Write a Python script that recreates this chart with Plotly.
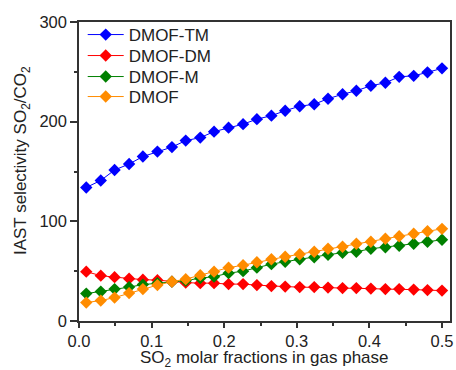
import plotly.graph_objects as go

x_frac = [0.010, 0.030, 0.049, 0.069, 0.088, 0.108, 0.128, 0.147, 0.167, 0.186,
          0.206, 0.226, 0.245, 0.265, 0.284, 0.304, 0.324, 0.343, 0.363, 0.382,
          0.402, 0.422, 0.441, 0.461, 0.480, 0.500]

dmof_tm = [134, 141, 151.5, 157.5, 165, 170, 174.5, 181, 184, 190, 194, 197.5, 202.5,
           206, 211, 215.5, 217.5, 223, 227.5, 231, 236, 239, 245, 246, 249.5, 253.5]
dmof_dm = [49.5, 45.5, 44, 42.5, 41.5, 41, 39.5, 38.5, 38, 38, 37, 37, 36,
           35, 34.5, 34, 34, 33.5, 33, 33, 32.5, 32, 32, 31.5, 31, 30.5]
dmof_m = [27.5, 29.5, 32, 34, 36.5, 38, 39.5, 40.5, 43, 44.5, 48, 50, 53.5,
          57, 59.5, 62, 64, 66.5, 68.5, 69.5, 72.5, 74, 75.5, 77.5, 79.5, 81.5]
dmof = [18.5, 20.5, 23.5, 28, 32, 36, 39.5, 42, 46, 49.5, 53.5, 56, 59,
        62, 64.5, 67, 69.5, 72.5, 74.5, 77.5, 79.5, 82.5, 85, 87.5, 90, 92.5]

x_title = "SO<sub>2</sub> molar fractions in gas phase"
y_title = "IAST selectivity SO<sub>2</sub>/CO<sub>2</sub>"

series = [
    ("DMOF-TM", dmof_tm, "#0000FF"),
    ("DMOF-DM", dmof_dm, "#FF0000"),
    ("DMOF-M", dmof_m, "#008000"),
    ("DMOF", dmof, "#FF8C00"),
]
legend_rows = [0.9565, 0.8863, 0.8161, 0.7492]

fig = go.Figure()
legend_layouts = {}
for i, (name, vals, col) in enumerate(series):
    lname = "legend" if i == 0 else f"legend{i + 1}"
    fig.add_trace(go.Scatter(
        x=x_frac, y=vals, name=name, mode="lines+markers",
        line=dict(color=col, width=1),
        marker=dict(symbol="diamond", size=9.5, color=col),
        legend=lname,
    ))
    legend_layouts[lname] = dict(
        x=0.01, y=legend_rows[i], xanchor="left", yanchor="middle",
        font=dict(size=17), bgcolor="rgba(0,0,0,0)", itemwidth=36,
    )

axis_common = dict(
    showline=True, linecolor="#333333", linewidth=1.5, mirror=True,
    ticks="outside", tickwidth=1.5, tickcolor="#333333",
    showgrid=False, zeroline=False, automargin=False,
    tickfont=dict(size=16.5, color="#222222"),
)

fig.update_layout(
    width=456, height=370,
    margin=dict(l=79, r=6, t=22, b=49),
    paper_bgcolor="white", plot_bgcolor="white",
    font=dict(family="Liberation Sans, Arial, sans-serif", color="#222222"),
    xaxis=dict(range=[0, 0.511], tickvals=[0, 0.1, 0.2, 0.3, 0.4, 0.5],
               tickformat=".1f", ticklen=5, ticklabelstandoff=-1,
               minor=dict(tickvals=[0.05, 0.15, 0.25, 0.35, 0.45], ticks="outside",
                          ticklen=3, tickwidth=1.5, tickcolor="#333333"),
               **axis_common),
    yaxis=dict(range=[0, 300], tickvals=[0, 100, 200, 300], ticklen=7,
               minor=dict(tickvals=[50, 150, 250], ticks="outside",
                          ticklen=3, tickwidth=1.5, tickcolor="#333333"),
               **axis_common),
    annotations=[
        dict(text=x_title, xref="paper", yref="paper", x=0.5, y=-0.127,
             xanchor="center", yanchor="middle", showarrow=False,
             font=dict(size=17, color="#222222")),
        dict(text=y_title, xref="paper", yref="paper", x=-0.1536, y=0.535,
             xanchor="center", yanchor="middle", showarrow=False, textangle=-90,
             font=dict(size=17, color="#222222")),
    ],
    showlegend=True,
    **legend_layouts,
)

fig.write_html("out.html")
